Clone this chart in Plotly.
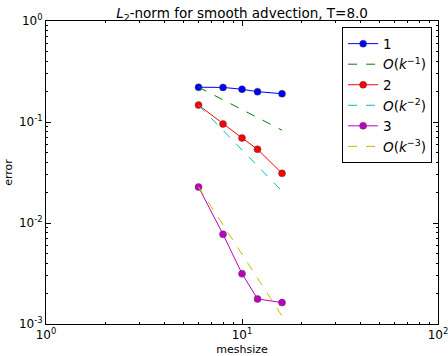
import plotly.graph_objects as go

meshsize = [6, 8, 10, 12, 16]
err1 = [0.221, 0.220, 0.211, 0.1995, 0.1907]
err2 = [0.147, 0.0955, 0.0695, 0.0537, 0.0310]
err3 = [0.0227, 0.00773, 0.00315, 0.00177, 0.00163]
ref1 = [0.221, 0.166, 0.133, 0.111, 0.083]
ref2 = [0.147, 0.0827, 0.0529, 0.0368, 0.0207]
ref3 = [0.0227, 0.00958, 0.00490, 0.00284, 0.00120]

names = ["1", "<i>O</i>(<i>k</i><sup>−1</sup>)", "2", "<i>O</i>(<i>k</i><sup>−2</sup>)",
         "3", "<i>O</i>(<i>k</i><sup>−3</sup>)"]

fig = go.Figure()

def data_trace(y, color, name):
    return go.Scatter(x=meshsize, y=y, mode="lines+markers", name=name,
                      line=dict(color=color, width=1),
                      marker=dict(color=color, size=7, line=dict(color="#444", width=0.5)))

def ref_trace(y, color, name):
    return go.Scatter(x=meshsize, y=y, mode="lines", name=name,
                      line=dict(color=color, width=1, dash="dash"))

fig.add_trace(data_trace(err1, "#0000ff", names[0]))
fig.add_trace(ref_trace(ref1, "#008000", names[1]))
fig.add_trace(data_trace(err2, "#ff0000", names[2]))
fig.add_trace(ref_trace(ref2, "#00bfbf", names[3]))
fig.add_trace(data_trace(err3, "#bf00bf", names[4]))
fig.add_trace(ref_trace(ref3, "#bfbf00", names[5]))

minor_x = [m * 10 ** e for e in (0, 1) for m in range(2, 10)]
minor_y = [m * 10.0 ** e for e in (-3, -2, -1) for m in range(2, 10)]

axis_common = dict(type="log", showgrid=False, zeroline=False, showline=True,
                   linecolor="black", linewidth=1, mirror="allticks", automargin=False,
                   ticks="inside", ticklen=5, tickcolor="black", ticklabeloverflow="allow",
                   tickfont=dict(family="DejaVu Sans", size=12, color="black"))

fig.update_xaxes(**axis_common, range=[0, 2], tickvals=[1, 10, 100],
                 ticktext=["10<sup>0</sup>", "10<sup>1</sup>", "10<sup>2</sup>"],
                 minor=dict(tickvals=minor_x, ticks="inside", ticklen=2, tickcolor="black"),
                 title=dict(text="meshsize", font=dict(family="DejaVu Sans", size=11, color="black"),
                            standoff=4))
fig.update_yaxes(**axis_common, range=[-3, 0], tickvals=[0.001, 0.01, 0.1, 1],
                 ticktext=["10<sup>-3</sup>", "10<sup>-2</sup>", "10<sup>-1</sup>", "10<sup>0</sup>"],
                 minor=dict(tickvals=minor_y, ticks="inside", ticklen=2, tickcolor="black"),
                 title=dict(text="error", font=dict(family="DejaVu Sans", size=11, color="black"),
                            standoff=4))

fig.update_layout(
    width=448, height=356,
    margin=dict(l=46, r=10, t=21, b=32),
    paper_bgcolor="white", plot_bgcolor="white",
    title=dict(text="<i>L</i><sub>2</sub>-norm for smooth advection, T=8.0",
               x=0.5, xref="paper", xanchor="center", y=0.962, yanchor="middle",
               font=dict(family="DejaVu Sans", size=13.5, color="black")),
    showlegend=True,
    legend=dict(x=0.985, y=0.979, xanchor="right", yanchor="top",
                bgcolor="white", bordercolor="black", borderwidth=1,
                font=dict(family="DejaVu Sans", size=13.5, color="black"),
                tracegroupgap=0),
)

fig.write_html("out.html", config={"displayModeBar": False},
               post_script="document.body.style.margin='0';")
